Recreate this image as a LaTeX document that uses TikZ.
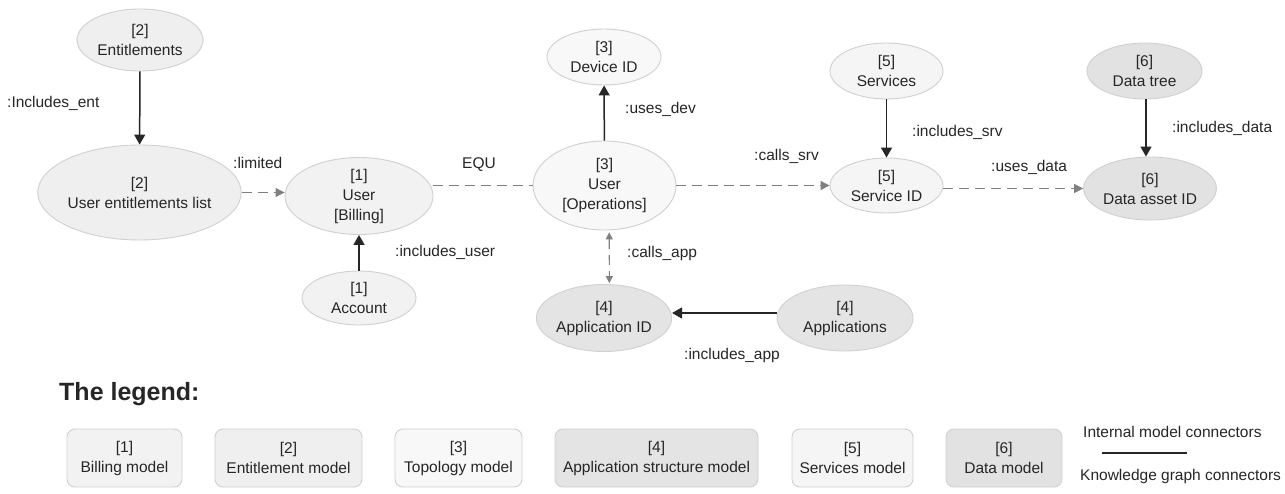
\documentclass[tikz,border=0pt]{standalone}
\usepackage{fontspec}
\setmainfont{Liberation Sans}
\usetikzlibrary{shapes.geometric,arrows.meta,calc}
\definecolor{c1}{HTML}{F2F2F2}
\definecolor{c2}{HTML}{EFEFEF}
\definecolor{c3}{HTML}{F8F8F8}
\definecolor{c4}{HTML}{E4E4E4}
\definecolor{c5}{HTML}{F5F5F5}
\definecolor{c6}{HTML}{E2E2E2}
\definecolor{bd}{HTML}{D0D0D0}
\definecolor{tx}{HTML}{262626}
\definecolor{dl}{HTML}{808080}
\begin{document}
\begin{tikzpicture}[x=1pt,y=-1pt,
  txt/.style={font=\fontsize{15.5pt}{20pt}\selectfont, text=tx},
  ell/.style={ellipse, draw=bd, line width=0.9pt, inner sep=0pt, align=center, txt},
  lbl/.style={txt, inner sep=0pt, anchor=base west},
  solidcon/.style={draw=tx, line width=1.5pt, -{Triangle[length=10pt,width=11pt]}},
  dashcon/.style={draw=dl, line width=1.1pt, dash pattern=on 10pt off 6pt, -{Triangle[length=9pt,width=9pt]}},
  dashplain/.style={draw=dl, line width=1.1pt, dash pattern=on 10pt off 6pt},
  legbox/.style={draw=bd, line width=0.9pt, rounded corners=8pt, align=center, inner sep=0pt, minimum height=58pt, txt},
]
\useasboundingbox (0,0) rectangle (1285,494);
\fill[white] (0,0) rectangle (1285,494);

% nodes
\node[ell, fill=c2, minimum width=126pt, minimum height=62pt] (ent) at (140,40) {[2]\\Entitlements};
\node[ell, fill=c2, minimum width=173pt, minimum height=95pt] (list) at (139.5,192.5) {[2]\\User entitlements list};
\node[ell, fill=c1, minimum width=148pt, minimum height=76pt] (bill) at (359,196) {[1]\\User\\{}[Billing]};
\node[ell, fill=c1, minimum width=114pt, minimum height=54pt] (acc) at (359,298) {[1]\\Account};
\node[ell, fill=c3, minimum width=114pt, minimum height=56pt] (dev) at (604,57) {[3]\\Device ID};
\node[ell, fill=c3, minimum width=143pt, minimum height=89pt] (uops) at (604.5,185.5) {[3]\\User\\{}[Operations]};
\node[ell, fill=c4, minimum width=128pt, minimum height=67pt] (appid) at (604,318) {[4]\\Application ID};
\node[ell, fill=c4, minimum width=136pt, minimum height=66pt] (apps) at (845,318) {[4]\\Applications};
\node[ell, fill=c5, minimum width=113pt, minimum height=56pt] (srv) at (886.5,71) {[5]\\Services};
\node[ell, fill=c5, minimum width=113pt, minimum height=55pt] (srvid) at (886.5,185.5) {[5]\\Service ID};
\node[ell, fill=c6, minimum width=115pt, minimum height=56pt] (dtree) at (1144.5,71) {[6]\\Data tree};
\node[ell, fill=c6, minimum width=126pt, minimum height=63pt] (dasset) at (1150,188.5) {[6]\\Data asset ID};

% connectors
\draw[solidcon] (ent) -- (list);
\draw[dashcon] (list.east |- 0,192.5) -- (bill.west |- 0,192.5);
\draw[dashplain] (bill.east |- uops.west) -- (uops.west);
\draw[solidcon] (acc) -- (bill);
\draw[solidcon] (uops) -- (dev);
\draw[dashcon] (uops) -- (srvid);
\draw[draw=dl, line width=1.1pt, dash pattern=on 10pt off 6pt, {Triangle[length=7pt,width=7pt]}-{Triangle[length=7pt,width=7pt]}, shorten <=2pt, shorten >=1pt] (uops.-84) -- (appid.81);
\draw[solidcon] ([yshift=5pt]apps.west) -- ([yshift=5pt]appid.east);
\draw[solidcon] (srv) -- (srvid);
\draw[solidcon] (dtree.south -| 1146,0) -- (dasset.north -| 1146,0);
\draw[dashcon] (srvid.east |- dasset.west) -- (dasset.west);

% connector labels
\node[lbl] (l1) at (7,107.5) {:Includes\_ent};
\node[lbl] (l2) at (233,168.5) {:limited};
\node[lbl] (l3) at (462,168.5) {EQU};
\node[lbl] (l4) at (395,256.5) {:includes\_user};
\node[lbl] (l5) at (625,113.5) {:uses\_dev};
\node[lbl] (l6) at (754,160.5) {:calls\_srv};
\node[lbl] (l7) at (627,257.5) {:calls\_app};
\node[lbl] (l8) at (684,359.5) {:includes\_app};
\node[lbl] (l9) at (912,136.5) {:includes\_srv};
\node[lbl] (l10) at (1172,132.5) {:includes\_data};
\node[lbl] (l11) at (991,171.5) {:uses\_data};

% legend
\node[inner sep=0pt, anchor=base west, font=\fontsize{25pt}{30pt}\selectfont\bfseries, text=tx] (legt) at (59,400) {The legend:};
\node[legbox, fill=c1, minimum width=115pt] (b1) at (124.5,458) {[1]\\Billing model};
\node[legbox, fill=c2, minimum width=147pt] (b2) at (288.5,458) {[2]\\Entitlement model};
\node[legbox, fill=c3, minimum width=127pt] (b3) at (458.5,458) {[3]\\Topology model};
\node[legbox, fill=c4, minimum width=203pt] (b4) at (656.5,458) {[4]\\Application structure model};
\node[legbox, fill=c5, minimum width=121pt] (b5) at (852.5,458) {[5]\\Services model};
\node[legbox, fill=c6, minimum width=116pt] (b6) at (1004,458) {[6]\\Data model};
\node[lbl] (int) at (1083,437.5) {Internal model connectors};
\node[lbl] (kg) at (1080,480.5) {Knowledge graph connectors};
\coordinate (la) at (1102,453);
\coordinate (lb) at (1187,453);
\draw[draw=tx, line width=1.2pt] (la) -- (lb);
\end{tikzpicture}
\end{document}
